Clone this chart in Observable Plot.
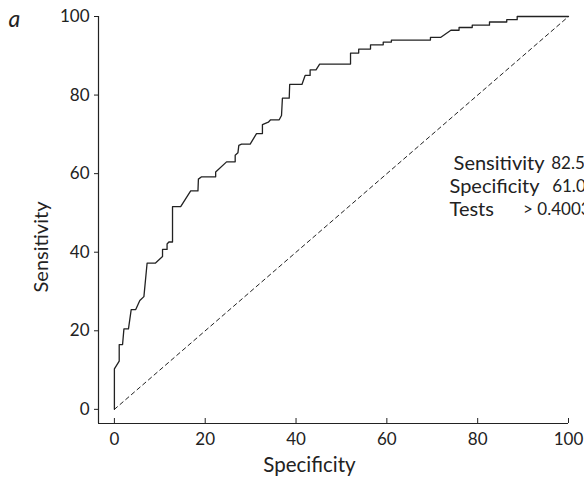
<!DOCTYPE html>
<html>
<head>
<meta charset="utf-8">
<script src="https://cdn.jsdelivr.net/npm/d3@7"></script>
<script src="https://cdn.jsdelivr.net/npm/@observablehq/plot@0.6"></script>
<style>
  html, body { margin: 0; padding: 0; background: #fff; }
  #chart { width: 584px; height: 477px; overflow: hidden; }
  svg { overflow: hidden; }
</style>
</head>
<body>
<div id="chart"></div>
<script>
// ROC curve points (x = "Specificity" axis, y = Sensitivity)
const specificity = [0, 0, 1.06, 1.06, 1.8, 2.1, 3.1, 3.7, 4.7, 5.6, 6.5, 7.2, 9.0, 10.6, 10.6, 11.6, 11.6, 12.0, 12.8, 12.8, 14.6, 16.8, 18.4, 18.5, 19.2, 22.3, 22.3, 24.7, 26.6, 26.6, 27.2, 27.4, 28.0, 29.9, 31.3, 32.6, 32.6, 33.9, 34.4, 36.3, 36.8, 37.0, 38.5, 38.6, 41.3, 42.0, 43.1, 43.1, 44.4, 45.2, 52.0, 52.0, 53.8, 53.8, 56.4, 56.4, 59.2, 59.2, 61.0, 61.0, 69.6, 69.6, 71.9, 74.1, 75.9, 75.9, 78.8, 78.8, 82.6, 82.6, 86.4, 86.4, 88.7, 88.7, 100];
const sensitivity = [0, 10.3, 12.3, 16.5, 16.5, 20.5, 20.5, 25.4, 25.4, 27.7, 28.7, 37.2, 37.2, 38.9, 40.7, 40.7, 42.1, 42.6, 42.6, 51.6, 51.6, 55.6, 55.6, 58.6, 59.2, 59.2, 60.4, 63.0, 63.0, 64.7, 65.3, 67.2, 67.5, 67.5, 70.2, 70.2, 72.5, 73.1, 73.7, 73.7, 74.8, 79.2, 79.2, 82.7, 82.7, 85.0, 85.0, 86.4, 86.4, 87.9, 87.9, 90.7, 90.7, 91.7, 91.7, 92.8, 92.8, 93.5, 93.5, 94.0, 94.0, 94.7, 94.7, 96.5, 96.5, 97.2, 97.2, 97.8, 97.8, 98.6, 98.6, 99.2, 99.2, 100, 100];

// Reference (chance) diagonal
const refX = [0, 100];
const refY = [0, 100];

// Tick labels
const xTicks = [0, 20, 40, 60, 80, 100];
const yTicks = [0, 20, 40, 60, 80, 100];

// Annotation (cut-off point)
const annoLabels = ["Sensitivity", "Specificity", "Tests"];
const annoValues = ["82.5", "61.0", "> 0.4003"];
const annoY = [62.6, 56.7, 50.9];
const annoLabelX = [74.7, 73.8, 73.8];
const annoValueX = [96.2, 96.4, 90.0];

const curve = specificity.map((x, i) => ({x, y: sensitivity[i]}));
const diag = refX.map((x, i) => ({x, y: refY[i]}));
const anno = annoLabels.map((t, i) => ({label: t, value: annoValues[i], x: annoLabelX[i], vx: annoValueX[i], y: annoY[i]}));

const FONT = "Lato, 'Open Sans', sans-serif";
const xMin = -3.5, yMin = -3.6;

const chart = Plot.plot({
  width: 584,
  height: 477,
  marginLeft: 98,
  marginRight: 16,
  marginTop: 16,
  marginBottom: 54,
  style: {fontFamily: FONT, fontSize: "17px", color: "#222", background: "#fff", overflow: "hidden"},
  x: {domain: [xMin, 100]},
  y: {domain: [yMin, 100]},
  marks: [
    Plot.ruleX([xMin], {stroke: "#222", strokeWidth: 1.2}),
    Plot.ruleY([yMin], {stroke: "#222", strokeWidth: 1.2}),
    Plot.axisY({ticks: yTicks, tickSize: 4, tickPadding: 5, label: null, fontSize: 17, stroke: "#222"}),
    Plot.axisX({ticks: xTicks, tickSize: -5, tickPadding: 14, label: null, fontSize: 17, stroke: "#222"}),
    Plot.line(diag, {x: "x", y: "y", stroke: "#222", strokeWidth: 1, strokeDasharray: "4,3.5"}),
    Plot.line(curve, {x: "x", y: "y", stroke: "#222", strokeWidth: 1.3}),
    Plot.text(anno, {x: "x", y: "y", text: "label", textAnchor: "start", fontSize: 20, fill: "#222"}),
    Plot.text(anno, {x: "vx", y: "y", text: "value", textAnchor: "start", fontSize: 17, fill: "#222"}),
    Plot.text(["Specificity"], {frameAnchor: "bottom", textAnchor: "middle", lineAnchor: "middle", dx: -24, dy: 42, fontSize: 20.5, fill: "#222"}),
    Plot.text(["Sensitivity"], {frameAnchor: "left", textAnchor: "middle", lineAnchor: "middle", dx: -57, dy: 27, rotate: -90, fontSize: 20, fill: "#222"}),
    Plot.text(["a"], {frameAnchor: "top-left", textAnchor: "start", lineAnchor: "middle", dx: -90, dy: 3, fontSize: 23, fontStyle: "italic", fill: "#222"})
  ]
});
document.getElementById("chart").appendChild(chart);
</script>
</body>
</html>
